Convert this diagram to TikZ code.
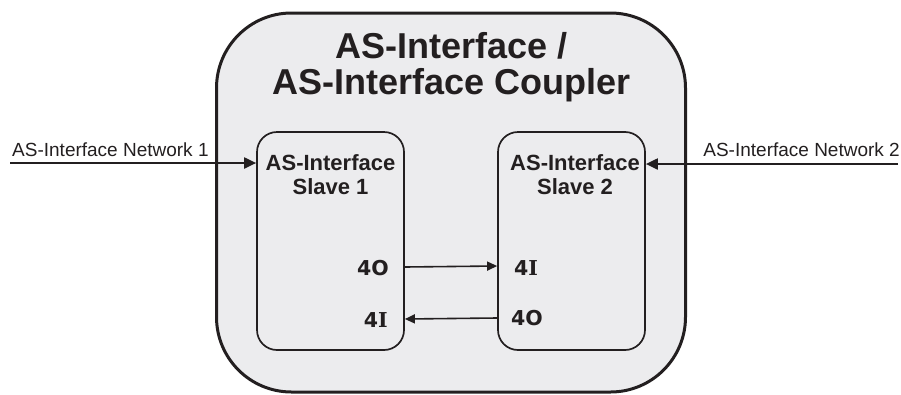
\documentclass[tikz,border=0pt]{standalone}
\usepackage{fontspec}
\setmainfont{Liberation Sans}
\newfontfamily\iofont{DejaVu Sans}[BoldFont={DejaVu Sans Bold}]
\newfontfamily\iserif{DejaVu Serif}[BoldFont={DejaVu Serif Bold}]
\usetikzlibrary{arrows.meta,calc}
\definecolor{boxfill}{RGB}{236,236,238}
\definecolor{ink}{RGB}{35,31,32}
\tikzset{
  outerbox/.style={draw=ink, fill=boxfill, line width=3pt, rounded corners=75pt},
  slavebox/.style={draw=ink, fill=boxfill, line width=1.7pt, rounded corners=20pt,
    minimum width=147pt, minimum height=218pt, inner sep=0pt},
  titletext/.style={font=\fontsize{36}{36}\selectfont\bfseries, text=ink, align=center, inner sep=0pt},
  slavetext/.style={font=\fontsize{22}{24}\selectfont\bfseries, text=ink, align=center, inner sep=0pt},
  nettext/.style={font=\fontsize{19}{20}\selectfont, text=ink, inner sep=0pt},
  iotext/.style={font=\fontsize{20.5}{22}\selectfont\iofont\bfseries, text=ink, inner sep=0pt},
  netarrow/.style={draw=ink, line width=2pt, -{Triangle[length=12pt,width=11pt]}},
  ioarrow/.style={draw=ink, line width=1.6pt, -{Triangle[length=10pt,width=9pt]}},
}
\begin{document}
\begin{tikzpicture}[x=1pt,y=-1pt]
\useasboundingbox (0,0) rectangle (901,394);
\node[outerbox, minimum width=469pt, minimum height=379pt, inner sep=0pt] (outer) at (451,202.5) {};
\node[titletext] (title) at (452,67) {AS-Interface /\\AS-Interface Coupler};
\node[slavebox] (s1) at (330.5,241) {};
\node[slavebox] (s2) at (571.5,241) {};
\node[slavetext] (s1t) at (330.5,175) {AS-Interface\\Slave 1};
\node[slavetext] (s2t) at (575,175) {AS-Interface\\Slave 2};
\node[iotext, anchor=east] (s1o) at (389,268) {4O};
\node[iotext, anchor=east] (s1i) at (388,320) {4{\iserif\bfseries I}};
\node[iotext, anchor=west] (s2i) at (514,268) {4{\iserif\bfseries I}};
\node[iotext, anchor=west] (s2o) at (511,318) {4O};
\coordinate (n1) at (10,163);
\coordinate (n2) at (898,164);
\node[nettext, anchor=south west] (n1t) at (12,157) {AS-Interface Network 1};
\node[nettext, anchor=south east] (n2t) at (900,157) {AS-Interface Network 2};
\draw[netarrow] (n1) -- ([yshift=78pt]s1.west);
\draw[netarrow] (n2) -- ([yshift=77pt]s2.east);
\draw[ioarrow] ([yshift=-26pt]s1.east) -- ([yshift=-25pt]s2.west);
\draw[ioarrow] ([yshift=-77pt]s2.west) -- ([yshift=-78pt]s1.east);
\end{tikzpicture}
\end{document}
